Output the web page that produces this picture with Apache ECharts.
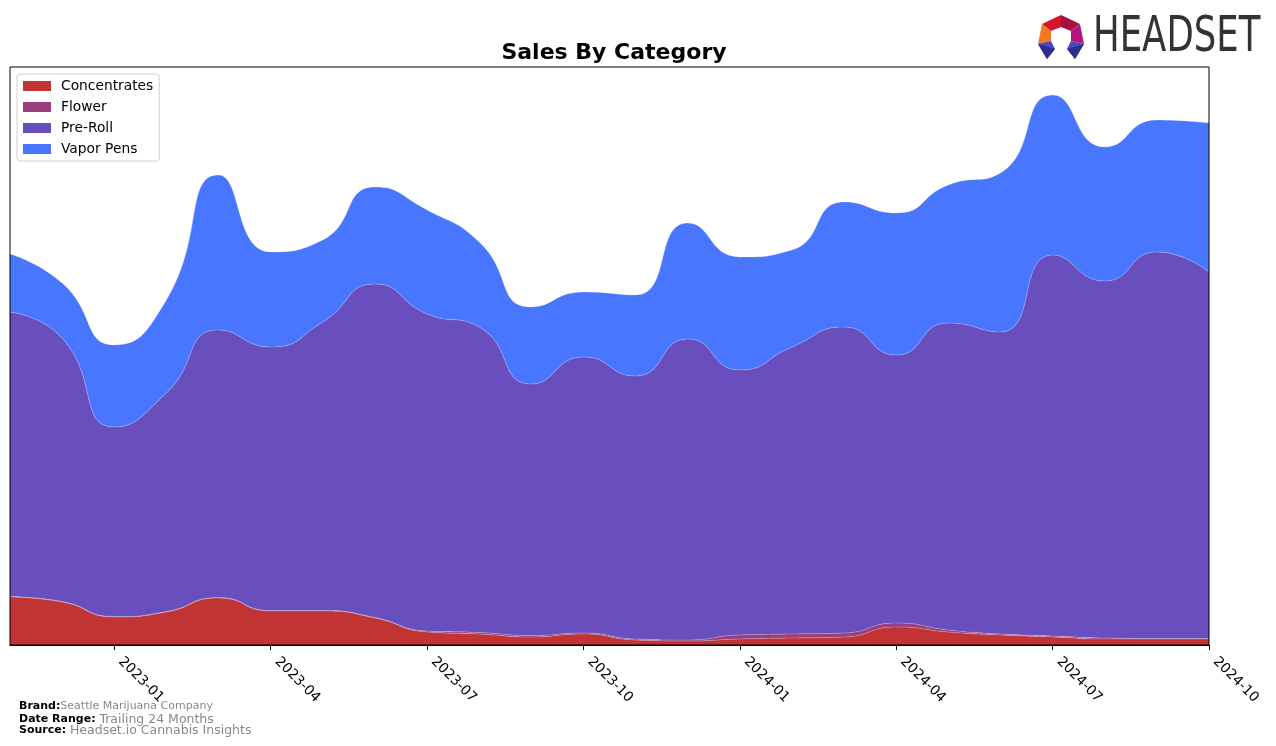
<!DOCTYPE html>
<html>
<head>
<meta charset="utf-8">
<script src="https://cdn.jsdelivr.net/npm/echarts@6/dist/echarts.min.js"></script>
<style>
html,body{margin:0;padding:0;background:#fff;}
#chart{width:1276px;height:746px;}
</style>
</head>
<body>
<div id="chart"></div>
<script>
// ---- data ----
const months = ['2022-11','2022-12','2023-01','2023-02','2023-03','2023-04','2023-05','2023-06','2023-07','2023-08','2023-09','2023-10',
                '2023-11','2023-12','2024-01','2024-02','2024-03','2024-04','2024-05','2024-06','2024-07','2024-08','2024-09','2024-10'];
const concentrates = [48,43,28,33,47,34,34,27,13,11,8,11,5,4,6,7,8,18,13,10,8,6,6,6];
const flower       = [0.5,0.5,0.5,0.5,0.5,0.5,0.5,0.5,1,1.5,1.5,1,1,1,4,4,4,4,2,1,1,1,0.5,0.5];
const preRoll      = [284.5,263.5,189.5,218.5,267.5,263.5,288.5,333.5,317,305.5,251.5,276,263,301,265,287,306,268,307,302,381,357,386.5,366.5];
const vaporPens    = [58,55,82,93,155,95,82,97,104,85,77,65,81,116,113,97,125,142,138,159,160,134,132,149];
const tickMonths   = ['01','04','07','10'];
const seriesNames  = ['Concentrates','Flower','Pre-Roll','Vapor Pens'];
const seriesColors = ['#C23434','#9A3E7C','#694FBD','#4876FF'];

const chart = echarts.init(document.getElementById('chart'));
const showTick = (idx, val) => tickMonths.indexOf(String(val).slice(5)) >= 0;
const dataSets = [concentrates, flower, preRoll, vaporPens];

const series = dataSets.map((d, i) => ({
  name: seriesNames[i],
  type: 'line',
  stack: 'total',
  smooth: 0.55,
  symbol: 'none',
  data: d,
  lineStyle: { width: 0.6, color: 'rgba(255,255,255,0.35)' },
  itemStyle: { color: seriesColors[i] },
  areaStyle: { color: seriesColors[i], opacity: 1 },
  emphasis: { disabled: true },
  z: 2
}));

chart.setOption({
  animation: false,
  backgroundColor: '#fff',
  title: {
    text: 'Sales By Category',
    left: 609, top: 37,
    textAlign: 'center',
    textStyle: { fontFamily: 'DejaVu Sans', fontWeight: 'bold', fontSize: 22, color: '#000' }
  },
  legend: {
    orient: 'vertical',
    left: 17, top: 74,
    icon: 'rect',
    itemWidth: 28, itemHeight: 10,
    itemGap: 7,
    padding: [5, 6, 5, 6],
    borderColor: '#d0d0d0', borderWidth: 1, borderRadius: 3,
    backgroundColor: 'rgba(255,255,255,0.9)',
    data: seriesNames,
    textStyle: { fontFamily: 'DejaVu Sans', fontSize: 13.8, color: '#000', lineHeight: 14, padding: [0, 0, 0, 5] }
  },
  grid: {
    left: 10, right: 67, top: 67, bottom: 101,
    show: true, borderColor: '#000', borderWidth: 1, backgroundColor: 'transparent', z: 5
  },
  xAxis: {
    type: 'category',
    data: months,
    boundaryGap: false,
    axisLine: { show: true, lineStyle: { color: '#000', width: 1 } },
    axisTick: { show: true, interval: showTick, length: 5, lineStyle: { color: '#000' } },
    axisLabel: {
      interval: showTick,
      rotate: -45,
      margin: 8,
      padding: [0, 0, 0, 9],
      fontFamily: 'DejaVu Sans', fontSize: 13.8, color: '#000'
    },
    splitLine: { show: false },
    z: 6
  },
  yAxis: {
    type: 'value', min: 0, max: 578,
    show: false,
    splitLine: { show: false }
  },
  series: series,
  graphic: [
    {
      type: 'text', left: 19, top: 701,
      style: { rich: { b: { fontFamily: 'DejaVu Sans', fontWeight: 'bold', fontSize: 11, fill: '#000' }, g: { fontFamily: 'DejaVu Sans', fontSize: 11, fill: '#888' } },
               text: '{b|Brand:}{g|Seattle Marijuana Company}' }
    },
    {
      type: 'text', left: 19, top: 713,
      style: { rich: { b: { fontFamily: 'DejaVu Sans', fontWeight: 'bold', fontSize: 11, fill: '#000' }, g: { fontFamily: 'DejaVu Sans', fontSize: 12.5, fill: '#888' } },
               text: '{b|Date Range: }{g|Trailing 24 Months}' }
    },
    {
      type: 'text', left: 19, top: 724,
      style: { rich: { b: { fontFamily: 'DejaVu Sans', fontWeight: 'bold', fontSize: 11, fill: '#000' }, g: { fontFamily: 'DejaVu Sans', fontSize: 12.5, fill: '#888' } },
               text: '{b|Source: }{g|Headset.io Cannabis Insights}' }
    },
    // logo icon
    { type: 'polygon', shape: { points: [[1042,24],[1061,15],[1061,27],[1051,31]] }, style: { fill: '#D3142E' } },
    { type: 'polygon', shape: { points: [[1061,15],[1080,24],[1071,31],[1061,27]] }, style: { fill: '#A5123F' } },
    { type: 'polygon', shape: { points: [[1042,24],[1051,31],[1051,41],[1038,44]] }, style: { fill: '#F07A22' } },
    { type: 'polygon', shape: { points: [[1080,24],[1084,44],[1071,41],[1071,31]] }, style: { fill: '#B5147A' } },
    { type: 'polygon', shape: { points: [[1038,44],[1051,41],[1055,49],[1047,59]] }, style: { fill: '#4A48C0' } },
    { type: 'polygon', shape: { points: [[1084,44],[1071,41],[1067,49],[1075,59]] }, style: { fill: '#4A48C0' } },
    { type: 'polygon', shape: { points: [[1038,44],[1055,49],[1047,59]] }, style: { fill: '#2E2E8A' } },
    { type: 'polygon', shape: { points: [[1084,44],[1067,49],[1075,59]] }, style: { fill: '#2E2E8A' } },
    {
      type: 'text', x: 1093, y: 13, scaleX: 0.71, scaleY: 1,
      style: { text: 'HEADSET', fontFamily: 'DejaVu Sans', fontSize: 50, fill: '#333' }
    }
  ]
});
</script>
</body>
</html>
